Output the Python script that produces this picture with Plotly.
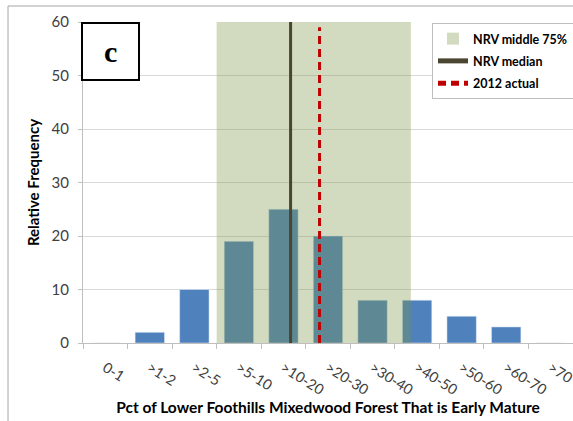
import plotly.graph_objects as go

categories = ["0-1", ">1-2", ">2-5", ">5-10", ">10-20", ">20-30", ">30-40",
              ">40-50", ">50-60", ">60-70", ">70"]
frequency = [0, 2, 10, 19, 25, 20, 8, 8, 5, 3, 0]
# positions on the category scale (index units)
nrv_middle75 = [2.5, 6.86]
nrv_median = 4.16
actual_2012 = 4.81

FONT = "Lato"
fig = go.Figure()
fig.add_trace(go.Bar(x=categories, y=frequency, marker_color="#4F81BD",
                     width=0.66, showlegend=False, hoverinfo="x+y"))

W, H = 573, 421
ml, mr, mt, mb = 83, 0, 22, 78
pw, ph = W - ml - mr, H - mt - mb

def px(x):
    return (x - ml) / pw

def py(y):
    return (H - mb - y) / ph

shapes = [
    dict(type="rect", xref="x", yref="y", x0=nrv_middle75[0], x1=nrv_middle75[1],
         y0=0, y1=60, fillcolor="rgba(124,150,67,0.34)", line_width=0, layer="above",
         showlegend=True, name="NRV middle 75%", legendgroup="a"),
    dict(type="line", xref="x", yref="y", x0=nrv_median, x1=nrv_median, y0=0, y1=60,
         line=dict(color="#4A4530", width=3), layer="above",
         showlegend=True, name="NRV median", legendgroup="b"),
    dict(type="line", xref="x", yref="y", x0=actual_2012, x1=actual_2012, y0=0, y1=59,
         line=dict(color="#C00000", width=3, dash="8px,5px"), layer="above",
         showlegend=True, name="2012 actual", legendgroup="c"),
    # outer chart border
    dict(type="rect", xref="paper", yref="paper", x0=px(8), x1=px(W + 20),
         y0=py(H + 20), y1=py(6), line=dict(color="#A6A6A6", width=1),
         fillcolor="rgba(0,0,0,0)", layer="below"),
    # panel label box
    dict(type="rect", xref="paper", yref="paper", x0=px(82), x1=px(139),
         y0=py(80), y1=py(23), line=dict(color="black", width=2),
         fillcolor="white", layer="above"),
]

fig.update_layout(
    width=W, height=H,
    margin=dict(l=ml, r=mr, t=mt, b=mb, autoexpand=False),
    plot_bgcolor="white", paper_bgcolor="white",
    font=dict(family=FONT, color="#404040", size=15),
    shapes=shapes,
    bargap=0.34,
    showlegend=True,
    legend=dict(x=px(432), y=py(23), xanchor="left", yanchor="top",
                bgcolor="white", bordercolor="#BFBFBF", borderwidth=1,
                font=dict(family=FONT, size=12.5, color="black", weight="bold"),
                itemsizing="constant", tracegroupgap=3),
    annotations=[dict(text="<b>c</b>", xref="paper", yref="paper",
                      x=px(110.5), y=py(51.5), xanchor="center", yanchor="middle",
                      showarrow=False,
                      font=dict(family="Liberation Serif", size=30, color="black"))],
)
fig.update_xaxes(
    type="category", range=[-0.5, 10.5], tickson="boundaries", automargin=False,
    ticks="outside", ticklen=5, tickcolor="#BFBFBF",
    showline=True, linecolor="#BFBFBF", linewidth=1,
    tickangle=32, tickfont=dict(size=14.5, color="#404040"), ticklabelstandoff=10,
    title=dict(text="Pct of Lower Foothills Mixedwood Forest That is Early Mature",
               font=dict(size=15.5, color="black", weight="bold"), standoff=3),
    showgrid=False,
)
fig.update_yaxes(
    range=[0, 60], dtick=10, showgrid=True, gridcolor="#D9D9D9", gridwidth=1,
    ticks="outside", ticklen=4, tickcolor="#BFBFBF", automargin=False,
    showline=True, linecolor="#BFBFBF", linewidth=1,
    tickfont=dict(size=15, color="#404040"), zeroline=False, ticklabelstandoff=6,
    title=dict(text="Relative Frequency",
               font=dict(size=15, color="black", weight="bold"), standoff=8),
)

fig.write_html("out.html", config={"displayModeBar": False},
               post_script="document.body.style.margin='0';document.body.style.overflow='hidden';")
